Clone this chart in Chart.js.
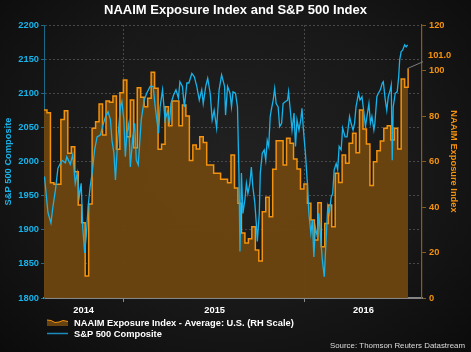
<!DOCTYPE html>
<html>
<head>
<meta charset="utf-8">
<script src="https://cdn.jsdelivr.net/npm/chart.js@4.4.0/dist/chart.umd.min.js"></script>
<style>
  html, body { margin: 0; padding: 0; }
  body {
    width: 471px; height: 352px; overflow: hidden;
    background: radial-gradient(ellipse at 50% 45%, #212121 0%, #181818 55%, #0b0b0b 100%);
  }
</style>
</head>
<body>
<canvas id="naaimChart" width="471" height="352"></canvas>
<script>
// days counted from the first plotted day (late July 2014)
const spDays = [1, 8, 14, 18, 23, 28, 36, 43, 46, 53, 58, 63, 67, 71, 75, 78, 82, 85, 89, 93, 97, 102, 107, 114, 118, 124, 129, 134, 137, 141, 144, 149, 154, 157, 161, 164, 167, 171, 174, 179, 183, 186, 190, 196, 202, 207, 214, 220, 225, 231, 234, 239, 244, 249, 253, 256, 261, 266, 271, 274, 279, 283, 288, 292, 298, 303, 308, 313, 318, 321, 326, 330, 335, 339, 343, 348, 353, 358, 364, 366, 370, 375, 378, 381, 386, 390, 393, 395, 398, 401, 405, 408, 411, 415, 418, 421, 425, 428, 430, 434, 436, 440, 444, 447, 450, 453, 456, 458, 462, 465, 468, 472, 475, 479, 482, 487, 491, 493, 497, 500, 504, 507, 510, 514, 518, 520, 523, 527, 531, 534, 538, 541, 544, 547, 551, 554, 558, 561, 565, 569, 572, 575, 579, 582, 585, 589, 592, 595, 599, 602, 607, 611, 616, 619, 623, 626, 629, 634, 637, 641, 645, 648, 651, 655, 658, 661, 665, 667, 671, 674, 678, 682, 684, 688, 691, 694, 698, 700, 702, 704, 708, 712, 715, 717, 720, 723, 727, 730, 733];
const spValues = [1978, 1925, 1910, 1934, 1958, 1990, 2002, 1998, 2007, 1996, 2010, 1968, 1983, 1948, 1968, 1904, 1866, 1890, 1934, 1963, 1983, 2017, 2036, 2039, 2051, 2066, 2073, 2061, 2031, 2012, 1973, 2036, 2080, 2088, 2061, 2007, 2041, 2056, 1992, 2036, 2056, 2002, 1995, 2061, 2090, 2100, 2110, 2110, 2075, 2041, 2080, 2105, 2061, 2073, 2056, 2085, 2097, 2105, 2093, 2117, 2110, 2080, 2115, 2115, 2129, 2124, 2110, 2090, 2105, 2085, 2110, 2122, 2100, 2061, 2075, 2049, 2105, 2127, 2110, 2068, 2110, 2100, 2080, 2102, 2100, 2080, 1983, 1868, 1983, 1924, 1944, 1968, 1953, 1968, 1992, 1963, 1939, 1909, 1883, 1924, 1983, 2012, 2017, 2002, 2031, 2022, 2066, 2075, 2090, 2107, 2085, 2080, 2051, 2056, 2085, 2088, 2090, 2102, 2071, 2046, 2071, 2022, 2061, 2046, 2063, 2078, 2046, 2012, 1968, 1924, 1895, 1914, 1860, 1904, 1890, 1924, 1885, 1856, 1831, 1890, 1934, 1924, 1948, 1953, 1988, 1997, 1988, 2022, 2017, 2049, 2036, 2036, 2066, 2056, 2046, 2056, 2080, 2100, 2090, 2095, 2071, 2051, 2066, 2085, 2056, 2066, 2046, 2056, 2095, 2100, 2105, 2115, 2117, 2090, 2075, 2095, 2105, 2112, 2002, 2080, 2100, 2102, 2124, 2149, 2161, 2163, 2171, 2168, 2171];

// weekly NAAIM readings, one per week
const naaimValues = [82.6, 81.4, 50.7, 50, 50, 78.5, 82.3, 63.6, 66.5, 55.5, 40.9, 33.1, 9.7, 41.3, 74.6, 77.5, 85.3, 71.6, 86.6, 86, 88.8, 65.4, 90.2, 95.8, 70.9, 87, 66,
  92.4, 88.2, 84.1, 87.8, 99.2, 92.2, 65.4, 67.6, 84.1, 75.7, 86.6, 86.6, 75.7, 84.8, 80, 60.4, 67.2, 65.5, 70.9, 68.4, 58.5, 58.5, 54.8, 54.8, 52.2, 52.2, 50.7,
  62.9, 48.3, 41.7, 28.6, 24.2, 26, 31.3, 21.1, 16.3, 37.9, 44.3, 35.7, 56.6, 69.1, 69.1, 58.5, 70.2, 68, 61.1, 56.7, 47.9, 50.1, 41.6, 34.3, 25.5, 41.9,
  22.5, 32.8, 40.9, 31.3, 54.8, 50.8, 62.9, 59.2, 68, 72.4, 63.9, 82.6, 74.3, 67.7, 49.4, 59.9, 64.7, 69, 74.6, 75.7, 69.4, 74.6, 65.5, 96.3, 92.6, 101];

const yearLabels = ["2014", "2015", "2016"];
const yearLabelDays = [80, 344, 644];
const yearBreakDays = [161, 526];

const FONT = "'Liberation Sans', Arial, sans-serif";
const CYAN = "#17b3ea";
const ORANGE = "#f3920d";
const BROWN = "rgba(108, 69, 16, 0.97)";
const GRID = "rgba(78, 78, 78, 0.9)";
const smallBold = { family: FONT, size: 9.3, weight: "bold" };

const spData = spDays.map((d, i) => ({ x: d, y: spValues[i] }));
const naaimData = naaimValues.map((v, i) => ({ x: Math.max(0, i * 7 - 1), y: v }));

const isBreak = (v) => yearBreakDays.includes(v);

// legend, source line and the last-value label
const extras = {
  id: "extras",
  afterDatasetsDraw(chart) {
    const { ctx, scales, chartArea } = chart;
    const last = naaimData[naaimData.length - 1];
    const px = scales.x.getPixelForValue(last.x);
    const py = scales.yR.getPixelForValue(last.y);
    ctx.save();
    ctx.strokeStyle = "#7d7d7d";
    ctx.lineWidth = 1;
    ctx.beginPath();
    ctx.moveTo(px, py);
    ctx.lineTo(chartArea.right + 1, py - 6.5);
    ctx.stroke();
    ctx.fillStyle = ORANGE;
    ctx.font = "bold 9.3px " + FONT;
    ctx.textBaseline = "middle";
    ctx.fillText(last.y.toFixed(1), chartArea.right + 6, py - 13);
    ctx.restore();
  },
  afterDraw(chart) {
    const ctx = chart.ctx;
    ctx.save();
    // area icon
    ctx.beginPath();
    ctx.moveTo(47, 320);
    ctx.lineTo(51, 320.5);
    ctx.lineTo(55, 322.5);
    ctx.lineTo(59, 322);
    ctx.lineTo(63, 320.5);
    ctx.lineTo(68, 321.5);
    ctx.lineTo(68, 326);
    ctx.lineTo(47, 326);
    ctx.closePath();
    ctx.fillStyle = BROWN;
    ctx.fill();
    ctx.beginPath();
    ctx.moveTo(47, 320);
    ctx.lineTo(51, 320.5);
    ctx.lineTo(55, 322.5);
    ctx.lineTo(59, 322);
    ctx.lineTo(63, 320.5);
    ctx.lineTo(68, 321.5);
    ctx.strokeStyle = ORANGE;
    ctx.lineWidth = 1;
    ctx.stroke();
    // line icon
    ctx.beginPath();
    ctx.moveTo(47, 333.5);
    ctx.lineTo(68, 333.5);
    ctx.strokeStyle = "#1a8cbc";
    ctx.lineWidth = 1.5;
    ctx.stroke();

    ctx.fillStyle = "#ffffff";
    ctx.font = "bold 9.3px " + FONT;
    ctx.textBaseline = "middle";
    ctx.fillText("NAAIM Exposure Index - Average: U.S. (RH Scale)", 74, 323.5);
    ctx.fillText("S&P 500 Composite", 74, 334);

    ctx.fillStyle = "#dcdcdc";
    ctx.font = "7.9px " + FONT;
    ctx.textAlign = "right";
    ctx.fillText("Source: Thomson Reuters Datastream", 465, 346);
    ctx.restore();
  }
};

new Chart(document.getElementById("naaimChart"), {
  type: "line",
  data: {
    datasets: [
      {
        label: "S&P 500 Composite",
        data: spData,
        yAxisID: "y",
        borderColor: CYAN,
        borderWidth: 1.3,
        pointRadius: 0,
        fill: false,
        order: 0
      },
      {
        label: "NAAIM Exposure Index - Average: U.S. (RH Scale)",
        data: naaimData,
        yAxisID: "yR",
        stepped: true,
        borderColor: ORANGE,
        borderWidth: 1.5,
        backgroundColor: BROWN,
        fill: "start",
        pointRadius: 0,
        order: 1
      }
    ]
  },
  options: {
    responsive: false,
    animation: false,
    devicePixelRatio: 1,
    layout: { padding: { bottom: 34 } },
    plugins: {
      legend: { display: false },
      tooltip: { enabled: false },
      title: {
        display: true,
        text: "NAAIM Exposure Index and S&P 500 Index",
        color: "#ffffff",
        font: { family: FONT, size: 13, weight: "bold" },
        padding: { top: 3, bottom: 6.4 }
      }
    },
    scales: {
      x: {
        type: "linear",
        min: 0,
        max: 762,
        afterBuildTicks: (s) => {
          s.ticks = [yearLabelDays[0], yearBreakDays[0], yearLabelDays[1], yearBreakDays[1], yearLabelDays[2]]
            .map((v) => ({ value: v }));
        },
        afterFit: (s) => { s.height = 20; },
        ticks: {
          autoSkip: false,
          maxRotation: 0,
          padding: 2.5,
          color: "#ffffff",
          font: smallBold,
          callback: (v) => {
            const i = yearLabelDays.indexOf(v);
            return i >= 0 ? yearLabels[i] : "";
          }
        },
        grid: {
          color: (c) => (c.tick && isBreak(c.tick.value) ? GRID : "transparent"),
          tickColor: (c) => (c.tick && isBreak(c.tick.value) ? "#8a8a8a" : "transparent"),
          tickLength: 4
        },
        border: { color: "#858585", width: 2, dash: [2, 2] }
      },
      y: {
        position: "left",
        min: 1800,
        max: 2200,
        afterFit: (s) => { s.width = 44; },
        ticks: { stepSize: 50, color: CYAN, font: smallBold, padding: 2, callback: (v) => String(v) },
        grid: { color: GRID, tickColor: "#1b6a88", tickLength: 3 },
        border: { color: "#1b6a88", width: 1, dash: [2, 2] },
        title: {
          display: true,
          text: "S&P 500 Composite",
          color: CYAN,
          font: smallBold,
          padding: { top: 3, bottom: 0 }
        }
      },
      yR: {
        position: "right",
        min: 0,
        max: 120,
        afterFit: (s) => { s.width = 49; },
        ticks: { stepSize: 20, color: ORANGE, font: smallBold, padding: 3, callback: (v) => String(v) },
        grid: { drawOnChartArea: false, color: "#8a5c1e", tickColor: "#8a5c1e", tickLength: 4 },
        border: { color: "#8a5c1e", width: 1.2 },
        title: {
          display: true,
          text: "NAAIM Exposure Index",
          color: ORANGE,
          font: smallBold,
          padding: { top: 11.5, bottom: 0 }
        }
      }
    }
  },
  plugins: [extras]
});
</script>
</body>
</html>
